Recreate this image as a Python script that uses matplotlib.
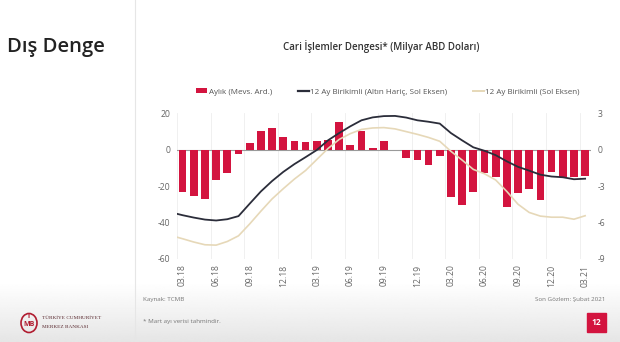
import numpy as np
import matplotlib
matplotlib.use("Agg")
import matplotlib.pyplot as plt
from matplotlib.patches import Patch, Rectangle, Ellipse
from matplotlib.lines import Line2D

plt.rcParams['font.family'] = ['Open Sans', 'DejaVu Sans']

# ---------------- data ----------------
months = ["03.18", "04.18", "05.18", "06.18", "07.18", "08.18", "09.18", "10.18", "11.18", "12.18",
          "01.19", "02.19", "03.19", "04.19", "05.19", "06.19", "07.19", "08.19", "09.19", "10.19",
          "11.19", "12.19", "01.20", "02.20", "03.20", "04.20", "05.20", "06.20", "07.20", "08.20",
          "09.20", "10.20", "11.20", "12.20", "01.21", "02.21", "03.21"]

# monthly current account, seasonally adjusted (right axis, bn USD)
monthly = [-3.47, -3.82, -4.04, -2.50, -1.90, -0.40, 0.50, 1.53, 1.77, 1.04,
           0.70, 0.63, 0.73, 0.80, 2.28, 0.40, 1.48, 0.10, 0.70, 0.00,
           -0.66, -0.87, -1.26, -0.52, -3.87, -4.58, -3.51, -1.94, -2.23, -4.71,
           -3.56, -3.21, -4.17, -1.88, -2.22, -2.30, -2.20]

# 12-month cumulative series (left axis); first value is 02.18 (partly outside the plot)
line_months = ["02.18"] + months
cum_ex_gold = [-34.5, -36.0, -37.3, -38.4, -38.9, -38.2, -36.5, -29.7, -23.0, -17.3, -12.3,
               -8.0, -4.2, -0.3, 5.0, 9.0, 12.7, 16.0, 17.6, 18.3, 18.4,
               17.5, 16.0, 15.2, 14.2, 9.0, 5.0, 1.2, -0.7, -3.1, -6.5,
               -9.5, -11.6, -13.8, -14.8, -15.2, -16.3, -16.0]
cum_total = [-47.2, -48.9, -50.7, -52.2, -52.4, -50.4, -47.3, -40.8, -33.8, -27.1, -21.5,
             -16.2, -11.5, -5.5, 0.5, 5.5, 8.7, 11.0, 11.8, 12.0, 11.3,
             9.8, 8.3, 6.6, 4.5, -1.0, -5.8, -10.9, -13.3, -16.7, -23.0,
             -30.0, -34.5, -36.5, -37.1, -37.1, -38.2, -36.3]

left_ticks = [-60, -40, -20, 0, 20]
right_ticks = [-9, -6, -3, 0, 3]

legend_labels = ["Aylık (Mevs. Ard.)", "12 Ay Birikimli (Altın Hariç, Sol Eksen)", "12 Ay Birikimli (Sol Eksen)"]

# ---------------- style ----------------
RED = "#d3143f"
DARK = "#2b2d3a"
TAN = "#e6d8b8"
GRAY = "#666666"

W, H = 620, 342
fig = plt.figure(figsize=(W / 100, H / 100), dpi=100)

# background with light footer gradient
bg = fig.add_axes([0, 0, 1, 1], zorder=-10)
grad = np.linspace(0.90, 1.0, 100).reshape(-1, 1)
bg.imshow(np.repeat(grad, 2, axis=1), cmap="gray", vmin=0, vmax=1, aspect="auto",
          extent=[0, W, 0, 60], origin="lower")
bg.set_xlim(0, W)
bg.set_ylim(0, H)
bg.axvline(135, color="#e6e6e6", lw=0.8)
bg.axis("off")

n = len(months)
x = np.arange(n)
xl = np.arange(-1, n)

px_left, px_right = 177, 590.7
px_top, px_bottom = 113, 259
rect = [px_left / W, 1 - px_bottom / H, (px_right - px_left) / W, (px_bottom - px_top) / H]

ax = fig.add_axes(rect)          # bars, right axis scale
ax2 = ax.twinx()                 # lines, left axis scale
ax.patch.set_alpha(0)
ax2.patch.set_alpha(0)

ax.bar(x, monthly, width=0.69, color=RED, zorder=3)
ax.set_ylim(-9, 3)
ax.set_xlim(-0.5, n - 0.5)
ax.axhline(0, color="#9a9a9a", lw=0.8, zorder=2)
for b in np.arange(-0.5, n - 0.5, 3):
    ax.axvline(b, color="#eeeeee", lw=0.6, zorder=1)
ax.set_yticks(right_ticks)
ax.set_yticklabels([str(t) for t in right_ticks])
ax.set_xticks(x[::3])
ax.set_xticklabels(months[::3], rotation=90)
ax.tick_params(axis="both", length=0, labelsize=6.2, labelcolor=GRAY)
ax.tick_params(axis="x", pad=4)

ax2.plot(xl, cum_total, color=TAN, lw=1.2, zorder=4)
ax2.plot(xl, cum_ex_gold, color=DARK, lw=1.3, zorder=5)
ax2.set_ylim(-60, 20)
ax2.set_xlim(-0.5, n - 0.5)
ax2.set_yticks(left_ticks)
ax2.set_yticklabels([str(t) for t in left_ticks])

# put axes on the intended sides
ax.yaxis.tick_right()
ax2.yaxis.tick_left()
ax.tick_params(axis="y", length=0, labelsize=6.2, labelcolor=GRAY, pad=5)
ax2.tick_params(axis="y", length=0, labelsize=6.2, labelcolor=GRAY, pad=5)

for a in (ax, ax2):
    for s in a.spines.values():
        s.set_visible(False)

# legend
handles = [Patch(facecolor=RED, edgecolor="none"),
           Line2D([], [], color=DARK, lw=1.6),
           Line2D([], [], color=TAN, lw=1.4)]
fig.legend(handles, legend_labels, loc="center", bbox_to_anchor=(388 / W, 1 - 92 / H), ncol=3,
           frameon=False, fontsize=5.8, handlelength=1.4, handleheight=0.5, handletextpad=0.15,
           columnspacing=3.2, labelcolor="#555555")

# titles
fig.text(381 / W, 1 - 47 / H, "Cari İşlemler Dengesi* (Milyar ABD Doları)", ha="center", va="center",
         fontsize=7, fontweight="semibold", color="#333333")
fig.text(7 / W, 1 - 47 / H, "Dış Denge", ha="left", va="center", fontsize=14.5,
         fontweight="semibold", color="#222222")

# footer
fig.text(143 / W, 1 - 300 / H, "Kaynak: TCMB", ha="left", va="center", fontsize=4.5, color="#777777")
fig.text(143 / W, 1 - 321 / H, "* Mart ayı verisi tahmindir.", ha="left", va="center", fontsize=4.5,
         color="#777777")
fig.text(605 / W, 1 - 300 / H, "Son Gözlem: Şubat 2021", ha="right", va="center", fontsize=4.5,
         color="#777777")
bg.add_patch(Rectangle((587, H - 332), 19, 19, color=RED))
bg.text(596.5, H - 322.5, "12", ha="center", va="center", fontsize=6, fontweight="bold", color="white")

# logo
bg.add_patch(Ellipse((29, H - 323), 16, 19, fill=False, edgecolor="#b01c30", lw=1.2))
bg.text(29, H - 325, "MB", ha="center", va="center", fontsize=5, fontweight="bold", color="#b01c30")
bg.text(29, H - 316, "T", ha="center", va="center", fontsize=5, fontweight="bold", color="#b01c30")
bg.text(42, H - 318, "TÜRKİYE CUMHURİYET", ha="left", va="center", fontsize=3.8,
        family=["Liberation Serif", "DejaVu Serif"], color="#5a2a30")
bg.text(42, H - 327, "MERKEZ BANKASI", ha="left", va="center", fontsize=3.8,
        family=["Liberation Serif", "DejaVu Serif"], color="#5a2a30")

fig.savefig("out.png", dpi=100)
